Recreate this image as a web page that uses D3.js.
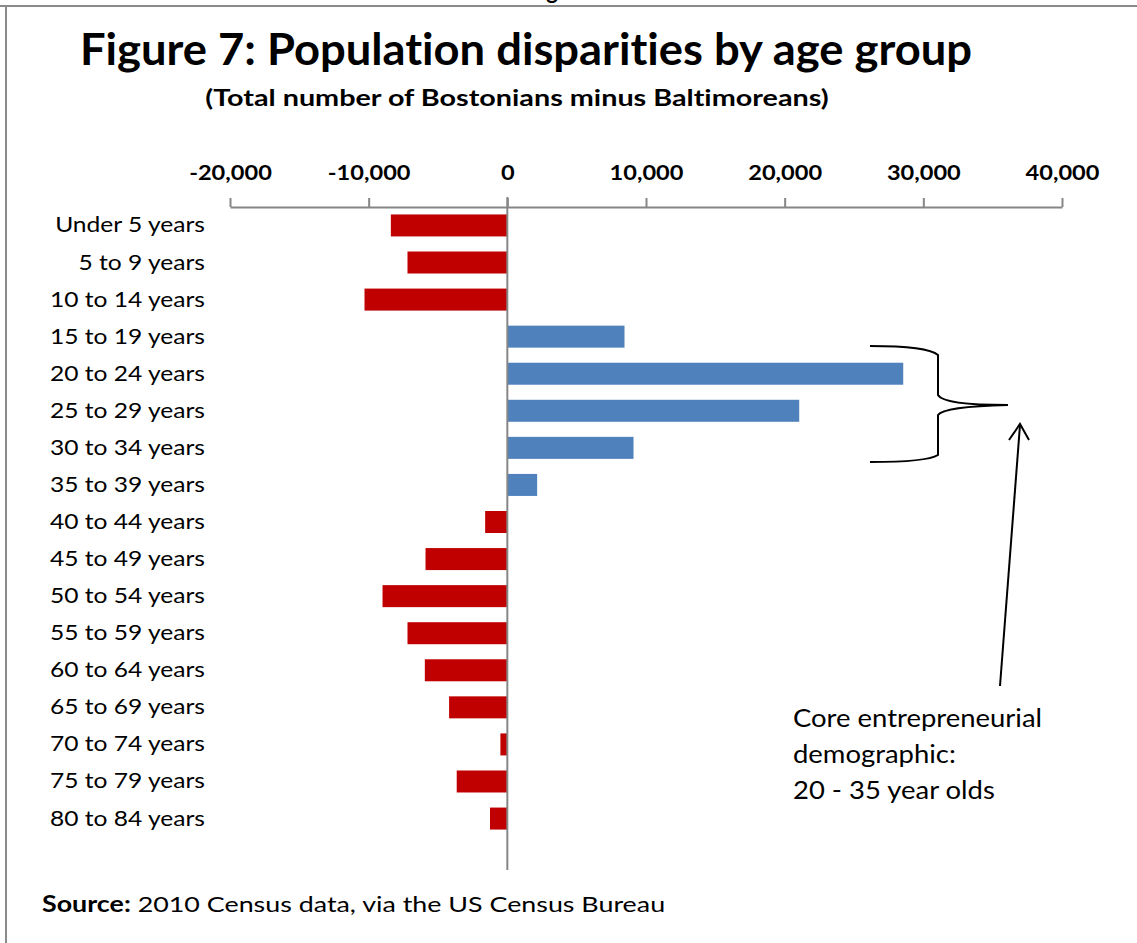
<!DOCTYPE html>
<html>
<head>
<meta charset="utf-8">
<script src="https://cdn.jsdelivr.net/npm/d3@7"></script>
<style>
  html, body { margin: 0; padding: 0; background: #fff; }
  svg { display: block; }
  text { font-family: Lato, "Open Sans", sans-serif; fill: #000; font-variant-ligatures: none; }
</style>
</head>
<body>
<svg id="chart" width="1137" height="943"></svg>
<script>
const categories = ["Under 5 years","5 to 9 years","10 to 14 years","15 to 19 years","20 to 24 years","25 to 29 years","30 to 34 years","35 to 39 years","40 to 44 years","45 to 49 years","50 to 54 years","55 to 59 years","60 to 64 years","65 to 69 years","70 to 74 years","75 to 79 years","80 to 84 years"];
const values = [-8400, -7200, -10300, 8450, 28550, 21050, 9100, 2150, -1600, -5900, -9000, -7200, -5950, -4200, -500, -3650, -1250];
const tickValues = [-20000, -10000, 0, 10000, 20000, 30000, 40000];
const tickLabels = ["-20,000", "-10,000", "0", "10,000", "20,000", "30,000", "40,000"];
const titleText = "Figure 7: Population disparities by age group";
const subtitleText = "(Total number of Bostonians minus Baltimoreans)";
const noteLines = ["Core entrepreneurial", "demographic:", "20 - 35 year olds"];

const svg = d3.select("#chart");

// stretch text horizontally to mimic the wider original face
function stretch(sel, f) {
  sel.each(function () {
    const len = this.getComputedTextLength();
    d3.select(this).attr("textLength", len * f).attr("lengthAdjust", "spacingAndGlyphs");
  });
}

// cut-off header glyph above frame (as in the reference)
svg.append("text").attr("x", 552).attr("y", -1).attr("text-anchor", "middle")
  .style("font-size", "22px").style("font-weight", "bold").text("g");

// frame
svg.append("line").attr("x1", 0).attr("x2", 1137).attr("y1", 6).attr("y2", 6)
  .attr("stroke", "#8a8a8a").attr("stroke-width", 2);
svg.append("line").attr("x1", 6).attr("x2", 6).attr("y1", 6).attr("y2", 943)
  .attr("stroke", "#8a8a8a").attr("stroke-width", 2);

// titles
svg.append("text").attr("x", 526).attr("y", 65).attr("text-anchor", "middle")
  .style("font-size", "44px").style("font-weight", "bold").text(titleText)
  .call(stretch, 1.03);
svg.append("text").attr("x", 517).attr("y", 106).attr("text-anchor", "middle")
  .style("font-size", "23px").style("font-weight", "bold").text(subtitleText)
  .call(stretch, 1.25);

const x = d3.scaleLinear().domain([-20000, 40000]).range([230, 1062]);
const y = d3.scaleBand().domain(categories).range([207, 837]).paddingInner(0.405).paddingOuter(0.2);

// bars
svg.append("g").selectAll("rect").data(values).join("rect")
  .attr("x", d => x(Math.min(0, d)))
  .attr("width", d => Math.abs(x(d) - x(0)))
  .attr("y", (d, i) => y(categories[i]) + y.bandwidth()/2 - 11)
  .attr("height", 22)
  .attr("fill", d => d < 0 ? "#C00000" : "#4F81BD");

// top axis
const axis = d3.axisTop(x).tickValues(tickValues)
  .tickFormat((d, i) => tickLabels[i]).tickSizeOuter(0).tickSizeInner(9).tickPadding(18);
const ag = svg.append("g").attr("transform", "translate(0,207)").call(axis);
ag.select(".domain").attr("stroke", "#868686").attr("stroke-width", 2);
ag.selectAll(".tick line").attr("stroke", "#868686").attr("stroke-width", 2);
ag.selectAll(".tick text").style("font-family", "Lato, sans-serif")
  .style("font-size", "20.5px").style("font-weight", "bold").attr("fill", "#000")
  .call(stretch, 1.15);

// zero vertical line
svg.append("line").attr("x1", x(0)).attr("x2", x(0)).attr("y1", 197).attr("y2", 870)
  .attr("stroke", "#868686").attr("stroke-width", 2);

// category labels
svg.append("g").selectAll("text").data(categories).join("text")
  .attr("x", 205).attr("y", d => y(d) + y.bandwidth()/2 + 7)
  .attr("text-anchor", "end").style("font-size", "21px").text(d => d)
  .call(stretch, 1.17);

// brace
const brace = "M870,346 C905,346 930,348 938,355 L938,395 C942,402 965,405 1008,405 C965,406 942,409 938,415 L938,455 C930,460 905,462 870,462";
svg.append("path").attr("d", brace).attr("fill", "none").attr("stroke", "#000").attr("stroke-width", 2);

// arrow
svg.append("path").attr("d", "M1000,686 L1020,425").attr("stroke", "#000").attr("stroke-width", 2).attr("fill", "none");
svg.append("path").attr("d", "M1009,440 L1020,424 L1029,440").attr("stroke", "#000").attr("stroke-width", 2).attr("fill", "none");

// note
svg.append("g").selectAll("text").data(noteLines).join("text")
  .attr("x", 793).attr("y", (d, i) => 727 + i * 36)
  .style("font-size", "24.5px").text(d => d)
  .call(stretch, 1.12);

// source
const src = svg.append("text").attr("x", 42).attr("y", 912).style("font-size", "22px");
src.append("tspan").style("font-weight", "bold").text("Source:");
src.append("tspan").text(" 2010 Census data, via the US Census Bureau");
src.call(stretch, 1.22);
</script>
</body>
</html>
